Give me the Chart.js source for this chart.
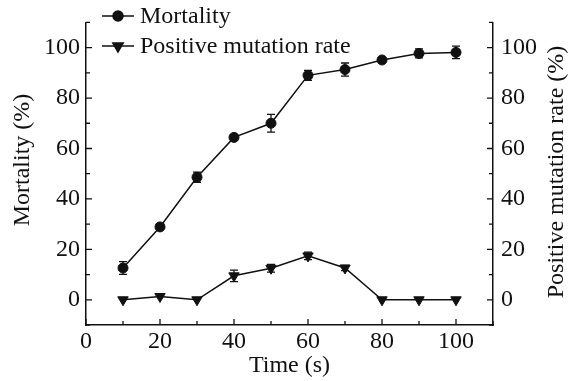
<!DOCTYPE html>
<html>
<head>
<meta charset="utf-8">
<script src="https://cdn.jsdelivr.net/npm/chart.js@4.4.1/dist/chart.umd.min.js"></script>
<style>
  html, body { margin: 0; padding: 0; background: #fff; }
  #wrap { width: 569px; height: 381px; }
</style>
</head>
<body>
<div id="wrap"><canvas id="chart" width="569" height="381"></canvas></div>
<script>
// ===== DATA =====
const times = [10, 20, 30, 40, 50, 60, 70, 80, 90, 100];
const mortality = [12.6, 28.9, 48.6, 64.4, 70.0, 89.0, 91.3, 95.1, 97.7, 98.1];
const mortalityErr = [2.5, 1.0, 2.0, 0.7, 3.5, 2.0, 2.6, 1.0, 1.8, 2.5];
const mutation = [0, 1.3, 0, 9.5, 12.5, 17.4, 12.6, 0, 0, 0];
const mutationErr = [0, 0, 0, 2.3, 1.5, 1.5, 1.0, 0, 0, 0];
const xTicks = [0, 20, 40, 60, 80, 100];
const yTicks = [0, 20, 40, 60, 80, 100];
const leftTitle = 'Mortality (%)';
const rightTitle = 'Positive mutation rate (%)';

const INK = '#111';
const FONT = "'Liberation Serif', 'Times New Roman', serif";

// ===== PLUGIN: error bars, inward ticks, titles, legend =====
const extras = {
  id: 'extras',
  afterDatasetsDraw(chart) {
    const ctx = chart.ctx;
    const xs = chart.scales.x;
    const errs = [mortalityErr, mutationErr];
    ctx.save();
    ctx.strokeStyle = INK;
    ctx.lineWidth = 1.3;
    chart.data.datasets.forEach((ds, i) => {
      const ys = chart.scales[ds.yAxisID];
      ds.data.forEach((p, j) => {
        const e = errs[i][j];
        if (!e) return;
        const px = xs.getPixelForValue(p.x);
        const top = ys.getPixelForValue(p.y + e);
        const bot = ys.getPixelForValue(p.y - e);
        ctx.beginPath();
        ctx.moveTo(px, top); ctx.lineTo(px, bot);
        ctx.moveTo(px - 4, top); ctx.lineTo(px + 4, top);
        ctx.moveTo(px - 4, bot); ctx.lineTo(px + 4, bot);
        ctx.stroke();
      });
    });
    ctx.restore();
  },
  afterDraw(chart) {
    const ctx = chart.ctx;
    const a = chart.chartArea;
    const xs = chart.scales.x, yl = chart.scales.y, yr = chart.scales.y2;
    ctx.save();
    ctx.strokeStyle = INK;
    ctx.lineWidth = 1.3;
    ctx.beginPath();
    for (let v = 0; v <= 110; v += 10) {
      const len = v % 20 === 0 ? 6 : 4;
      const px = xs.getPixelForValue(v);
      ctx.moveTo(px, a.bottom); ctx.lineTo(px, a.bottom - len);
    }
    for (let v = -10; v <= 110; v += 10) {
      const len = v % 20 === 0 ? 6 : 4;
      const py = yl.getPixelForValue(v);
      ctx.moveTo(a.left, py); ctx.lineTo(a.left + len, py);
      const pr = yr.getPixelForValue(v);
      ctx.moveTo(a.right, pr); ctx.lineTo(a.right - len, pr);
    }
    ctx.stroke();

    // y titles, both read bottom to top
    ctx.font = '24px ' + FONT;
    ctx.fillStyle = INK;
    ctx.textAlign = 'center';
    ctx.textBaseline = 'middle';
    ctx.save();
    ctx.translate(23, 160);
    ctx.rotate(-Math.PI / 2);
    ctx.fillText(leftTitle, 0, 0);
    ctx.restore();
    ctx.save();
    ctx.translate(557, 172);
    ctx.rotate(-Math.PI / 2);
    ctx.fillText(rightTitle, 0, 0);
    ctx.restore();

    // legend
    const rows = [16, 46];
    ctx.textAlign = 'left';
    chart.data.datasets.forEach((ds, i) => {
      const y = rows[i];
      ctx.lineWidth = 1.5;
      ctx.beginPath();
      ctx.moveTo(102, y); ctx.lineTo(134, y);
      ctx.stroke();
      Chart.helpers.drawPoint(ctx, {
        pointStyle: ds.pointStyle, radius: ds.pointRadius, rotation: ds.pointRotation, borderWidth: 1
      }, 118, y);
      ctx.fill();
      ctx.fillText(ds.label, 140, y + 1);
    });
    ctx.restore();
  }
};

function pairs(vals) {
  return times.map((t, i) => ({ x: t, y: vals[i] }));
}

function fixedTicks(list) {
  return scale => { scale.ticks = list.map(v => ({ value: v })); };
}

new Chart(document.getElementById('chart'), {
  type: 'line',
  data: {
    datasets: [
      {
        label: 'Mortality', data: pairs(mortality), yAxisID: 'y',
        borderColor: INK, backgroundColor: INK, borderWidth: 1.5,
        pointStyle: 'circle', pointRadius: 5, pointRotation: 0, pointBorderWidth: 1
      },
      {
        label: 'Positive mutation rate', data: pairs(mutation), yAxisID: 'y2',
        borderColor: INK, backgroundColor: INK, borderWidth: 1.5,
        pointStyle: 'triangle', pointRadius: 6, pointRotation: 180, pointBorderWidth: 1
      }
    ]
  },
  options: {
    responsive: false,
    animation: false,
    layout: { padding: { top: 22, left: 0, right: 0, bottom: 0 } },
    plugins: { legend: { display: false }, tooltip: { enabled: false } },
    scales: {
      x: {
        type: 'linear', min: 0, max: 110,
        afterBuildTicks: fixedTicks(xTicks),
        afterFit: s => { s.height = 56; },
        grid: { display: false, drawTicks: false },
        border: { display: true, color: INK, width: 1.5 },
        ticks: { color: INK, font: { family: FONT, size: 24 }, padding: 2, maxRotation: 0 },
        title: { display: true, text: 'Time (s)', color: INK, font: { family: FONT, size: 24, lineHeight: 1.0 }, padding: { top: 0, bottom: 3 } }
      },
      y: {
        position: 'left', min: -10, max: 110,
        afterBuildTicks: fixedTicks(yTicks),
        afterFit: s => { s.width = 86; },
        grid: { display: false, drawTicks: false },
        border: { display: true, color: INK, width: 1.5 },
        ticks: { color: INK, font: { family: FONT, size: 24 }, padding: 6 }
      },
      y2: {
        position: 'right', min: -10, max: 110,
        afterBuildTicks: fixedTicks(yTicks),
        afterFit: s => { s.width = 76; },
        grid: { display: false, drawTicks: false },
        border: { display: true, color: INK, width: 1.5 },
        ticks: { color: INK, font: { family: FONT, size: 24 }, padding: 8 }
      }
    }
  },
  plugins: [extras]
});
</script>
</body>
</html>
